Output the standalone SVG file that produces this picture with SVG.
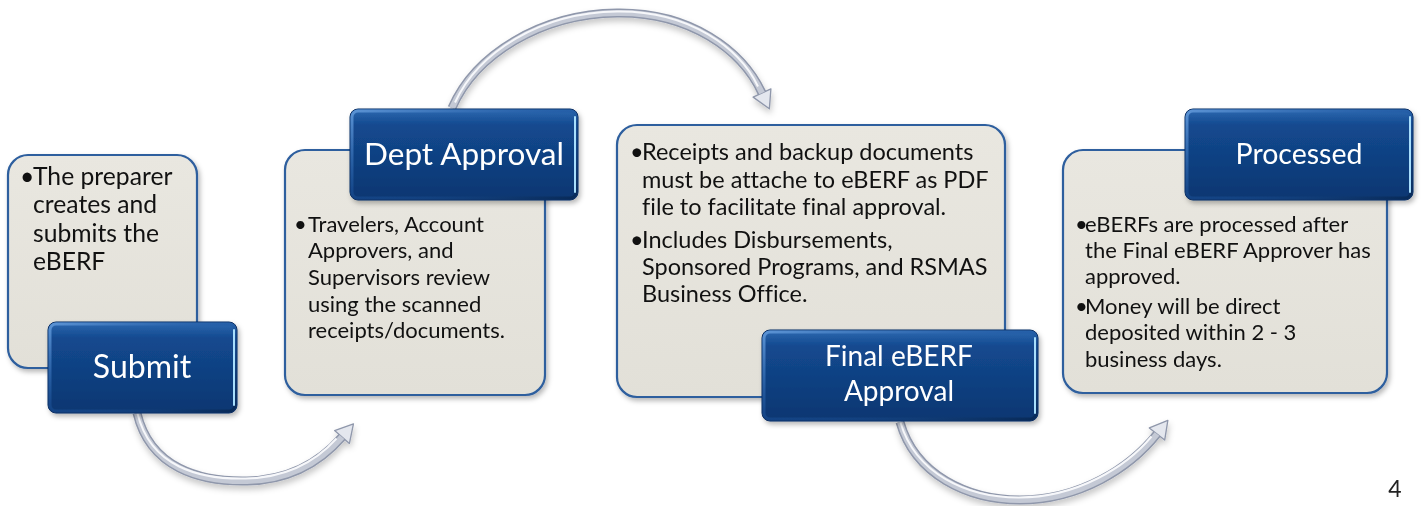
<svg xmlns="http://www.w3.org/2000/svg" width="1421" height="506" viewBox="0 0 1421 506">
  <style>
    .panel { fill: url(#panelFill); stroke: #2d5e9e; stroke-width: 2.2; }
    .btn { fill: url(#btnFill); stroke: #0a2f62; stroke-width: 1; }
    .btn-bevel { fill: none; stroke: url(#bevel); stroke-width: 3; }
    .btn-shine { fill: none; stroke: #a8defc; stroke-width: 2; stroke-linecap: round; }
    .btn-text { font-family: Lato, "Liberation Sans", sans-serif; fill: #ffffff; text-anchor: middle; font-variant-ligatures: none; }
    .body { font-family: Lato, "Liberation Sans", sans-serif; fill: #111111; font-variant-ligatures: none; }
    .arc-base { fill: none; stroke: #8f97ab; stroke-width: 9; stroke-linecap: butt; }
    .arc-mid { fill: none; stroke: #c4c9d5; stroke-width: 6; }
    .arc-hi { fill: none; stroke: #f6f7fa; stroke-width: 2; }
  </style>
  <defs>
    <linearGradient id="panelFill" x1="0" y1="0" x2="0" y2="1">
      <stop offset="0" stop-color="#e9e7e0"/>
      <stop offset="1" stop-color="#e2e0d8"/>
    </linearGradient>
    <linearGradient id="btnFill" x1="0" y1="0" x2="0" y2="1">
      <stop offset="0" stop-color="#2d69b1"/>
      <stop offset="0.18" stop-color="#13498f"/>
      <stop offset="1" stop-color="#0c3671"/>
    </linearGradient>
    <linearGradient id="bevel" x1="0" y1="0" x2="1" y2="1">
      <stop offset="0" stop-color="#5b93d4"/>
      <stop offset="0.5" stop-color="#1d56a0" stop-opacity="0.4"/>
      <stop offset="1" stop-color="#082a58"/>
    </linearGradient>
    <filter id="shadow" x="-10%" y="-10%" width="125%" height="130%">
      <feDropShadow dx="2" dy="3" stdDeviation="2.5" flood-color="#000000" flood-opacity="0.28"/>
    </filter>
    <filter id="arcShadow" x="-10%" y="-20%" width="120%" height="150%">
      <feDropShadow dx="1" dy="4" stdDeviation="3" flood-color="#000000" flood-opacity="0.22"/>
    </filter>
    <marker id="head" markerUnits="userSpaceOnUse" markerWidth="24" markerHeight="24" viewBox="-2 -11 20 22" refX="0" refY="0" orient="auto">
      <path d="M0,-9 L16,0 L0,9 Z" fill="#e4e7ee" stroke="#8f97ab" stroke-width="1.2" stroke-linejoin="round"/>
    </marker>
  </defs>

  <!-- curved connectors between the stages -->
  <g id="connectors" filter="url(#arcShadow)">
    <g id="arc-submit-dept">
      <path class="arc-base" d="M137,413 C150,468 200,482 247,481 C293,480 322,460 342,437" marker-end="url(#head)"/>
      <path class="arc-mid" d="M137,413 C150,468 200,482 247,481 C293,480 322,460 342,437"/>
      <path class="arc-hi" transform="translate(-1.5,-1.5)" d="M139,415 C152,468 200,481 247,480 C292,479 320,460 338,440"/>
    </g>
    <g id="arc-dept-final">
      <path class="arc-base" d="M452,108 C475,55 540,14 617,13 C690,12 742,50 762,93" marker-end="url(#head)"/>
      <path class="arc-mid" d="M452,108 C475,55 540,14 617,13 C690,12 742,50 762,93"/>
      <path class="arc-hi" transform="translate(0,-1.5)" d="M455,104 C478,54 540,14 617,13 C690,12 740,50 758,88"/>
    </g>
    <g id="arc-final-processed">
      <path class="arc-base" d="M900,422 C915,475 968,500 1020,500 C1080,500 1130,468 1157,434" marker-end="url(#head)"/>
      <path class="arc-mid" d="M900,422 C915,475 968,500 1020,500 C1080,500 1130,468 1157,434"/>
      <path class="arc-hi" transform="translate(-1.5,-1.5)" d="M902,424 C917,475 968,499 1020,499 C1079,499 1128,468 1153,438"/>
    </g>
  </g>

  <!-- Stage 1: Submit -->
  <g id="node-submit">
    <rect class="panel" x="8" y="155" width="189" height="213" rx="20" filter="url(#shadow)"/>
    <text class="body" font-size="24.7">
      <tspan x="20" y="185">•</tspan><tspan x="33" y="185">The preparer</tspan>
      <tspan x="33" y="213">creates and</tspan>
      <tspan x="33" y="242">submits the</tspan>
      <tspan x="33" y="270">eBERF</tspan>
    </text>
    <rect class="btn" x="48" y="322" width="189" height="91" rx="8" filter="url(#shadow)"/>
    <rect class="btn-bevel" x="50" y="324" width="185" height="87" rx="6"/>
    <path class="btn-shine" d="M234,330 L234,405"/>
    <text class="btn-text" x="142" y="378" font-size="32">Submit</text>
  </g>

  <!-- Stage 2: Dept Approval -->
  <g id="node-dept">
    <rect class="panel" x="285" y="150" width="260" height="245" rx="20" filter="url(#shadow)"/>
    <text class="body" font-size="22">
      <tspan x="294" y="232">•</tspan><tspan x="308" y="232">Travelers, Account</tspan>
      <tspan x="308" y="258">Approvers, and</tspan>
      <tspan x="308" y="285">Supervisors review</tspan>
      <tspan x="308" y="312">using the scanned</tspan>
      <tspan x="308" y="338">receipts/documents.</tspan>
    </text>
    <rect class="btn" x="350" y="109" width="228" height="91" rx="8" filter="url(#shadow)"/>
    <rect class="btn-bevel" x="352" y="111" width="224" height="87" rx="6"/>
    <path class="btn-shine" d="M575,117 L575,192"/>
    <text class="btn-text" x="464" y="165" font-size="31.5">Dept Approval</text>
  </g>

  <!-- Stage 3: Final eBERF Approval -->
  <g id="node-final">
    <rect class="panel" x="617" y="125" width="388" height="272" rx="20" filter="url(#shadow)"/>
    <text class="body" font-size="23.5">
      <tspan x="630" y="160">•</tspan><tspan x="642" y="160">Receipts and backup documents</tspan>
      <tspan x="642" y="188">must be attache to eBERF as PDF</tspan>
      <tspan x="642" y="215">file to facilitate final approval.</tspan>
      <tspan x="630" y="248">•</tspan><tspan x="642" y="248">Includes Disbursements,</tspan>
      <tspan x="642" y="275">Sponsored Programs, and RSMAS</tspan>
      <tspan x="642" y="302">Business Office.</tspan>
    </text>
    <rect class="btn" x="762" y="330" width="276" height="91" rx="8" filter="url(#shadow)"/>
    <rect class="btn-bevel" x="764" y="332" width="272" height="87" rx="6"/>
    <path class="btn-shine" d="M1035,338 L1035,413"/>
    <text class="btn-text" x="899" y="366" font-size="28">Final eBERF</text>
    <text class="btn-text" x="899" y="401" font-size="28">Approval</text>
  </g>

  <!-- Stage 4: Processed -->
  <g id="node-processed">
    <rect class="panel" x="1063" y="150" width="324" height="243" rx="20" filter="url(#shadow)"/>
    <text class="body" font-size="22">
      <tspan x="1075" y="232">•</tspan><tspan x="1085" y="232">eBERFs are processed after</tspan>
      <tspan x="1085" y="258">the Final eBERF Approver has</tspan>
      <tspan x="1085" y="284">approved.</tspan>
      <tspan x="1075" y="314">•</tspan><tspan x="1085" y="314">Money will be direct</tspan>
      <tspan x="1085" y="340">deposited within 2 - 3</tspan>
      <tspan x="1085" y="367">business days.</tspan>
    </text>
    <rect class="btn" x="1185" y="109" width="228" height="91" rx="8" filter="url(#shadow)"/>
    <rect class="btn-bevel" x="1187" y="111" width="224" height="87" rx="6"/>
    <path class="btn-shine" d="M1410,117 L1410,192"/>
    <text class="btn-text" x="1299" y="164" font-size="28.5">Processed</text>
  </g>

  <!-- slide number -->
  <text x="1395" y="497" font-family="Lato, 'Liberation Sans', sans-serif" font-size="23" fill="#222222" text-anchor="middle">4</text>
</svg>
